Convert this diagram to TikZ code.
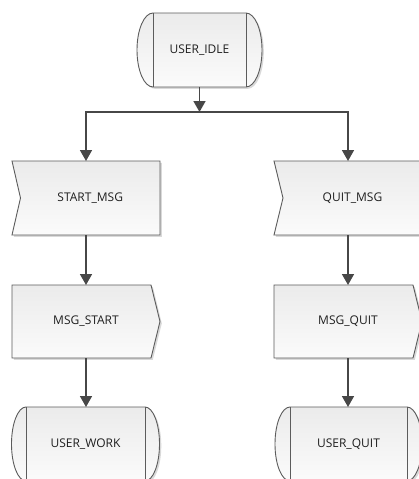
\documentclass[tikz,border=0pt]{standalone}
\usepackage{fontspec}
\setmainfont{Open Sans}
\usetikzlibrary{arrows.meta,backgrounds,calc}

\definecolor{edgegray}{HTML}{5C5C5C}
\definecolor{linegray}{HTML}{474747}
\definecolor{filltop}{HTML}{EBEBEB}
\definecolor{fillbot}{HTML}{FBFBFB}
\definecolor{shadowgray}{HTML}{D9D9D9}

\tikzset{
  caption/.style={font=\fontsize{12}{14}\selectfont, text=black!88,
    inner sep=0pt, outer sep=0pt, rectangle},
  statenode/.style={caption, minimum width=#1, minimum height=74pt},
  signode/.style={caption, minimum width=#1, minimum height=74pt},
  shapefill/.style={draw=edgegray, line width=0.9pt, line join=miter,
    top color=filltop, bottom color=fillbot},
  shadowfill/.style={fill=shadowgray, transform canvas={shift={(1.8pt,-1.8pt)}}},
  conn/.style={draw=linegray, line width=1.7pt, line join=miter,
    -{Triangle[length=11pt,width=12pt]}},
}

% state symbol: straight inner sides, bulging rounded ends
\newcommand\statepath[2]{(#1.north west) -- (#1.north east)
  arc[start angle=90,end angle=-90,x radius=#2,y radius=37]
  -- (#1.south west)
  arc[start angle=270,end angle=90,x radius=#2,y radius=37] -- cycle}
\newcommand\drawstate[2]{%
  \begin{scope}[on background layer]
    \path[shadowfill] \statepath{#1}{#2};
    \path[shapefill] \statepath{#1}{#2};
    \draw[edgegray, line width=0.9pt] (#1.north west) -- (#1.south west)
      (#1.north east) -- (#1.south east);
  \end{scope}}

% input signal: notch cut into the left side
\newcommand\inpath[2]{([xshift=-#2]#1.north west) -- (#1.north east)
  -- (#1.south east) -- ([xshift=-#2]#1.south west) -- (#1.west) -- cycle}
\newcommand\drawinput[2]{%
  \begin{scope}[on background layer]
    \path[shadowfill] \inpath{#1}{#2};
    \path[shapefill] \inpath{#1}{#2};
  \end{scope}}

% output signal: point on the right side
\newcommand\outpath[2]{(#1.north west) -- ([xshift=-#2]#1.north east)
  -- (#1.east) -- ([xshift=-#2]#1.south east) -- (#1.south west) -- cycle}
\newcommand\drawoutput[2]{%
  \begin{scope}[on background layer]
    \path[shadowfill] \outpath{#1}{#2};
    \path[shapefill] \outpath{#1}{#2};
  \end{scope}}

\begin{document}
\begin{tikzpicture}[x=1pt,y=1pt]
  \begin{scope}[on background layer]
    \fill[white] (0,0) rectangle (419,-479);
  \end{scope}
  \useasboundingbox (0,0) rectangle (419,-479);

  % states
  \node[statenode=93pt]  (idle)     at (199.5,-50)  {USER\_IDLE};
  \node[statenode=119pt] (userwork) at (85.5,-444)  {USER\_WORK};
  \node[statenode=117pt] (userquit) at (348.5,-444) {USER\_QUIT};

  % input signals
  \node[signode=139.5pt] (startmsg) at (90.25,-198) {START\_MSG};
  \node[signode=139pt]   (quitmsg)  at (352.5,-198) {QUIT\_MSG};

  % output signals
  \node[caption, minimum width=148pt, minimum height=73pt] (msgstart) at (86,-321.5)  {MSG\_START};
  \node[caption, minimum width=148pt, minimum height=73pt] (msgquit)  at (348,-321.5) {MSG\_QUIT};

  \drawstate{idle}{16}
  \drawstate{userwork}{14.5}
  \drawstate{userquit}{15}
  \drawinput{startmsg}{8.5pt}
  \drawinput{quitmsg}{9pt}
  \drawoutput{msgstart}{9pt}
  \drawoutput{msgquit}{9pt}

  % connectors
  \coordinate (split) at (199.5,-112);
  \draw[conn] (idle.south) -- (split);
  \draw[conn] (split) -| (msgstart.north |- startmsg.north);
  \draw[conn] (split) -| (msgquit.north |- quitmsg.north);
  \draw[conn] (startmsg.south -| msgstart.north) -- (msgstart.north);
  \draw[conn] (quitmsg.south -| msgquit.north) -- (msgquit.north);
  \draw[conn] (msgstart.south) -- (msgstart.south |- userwork.north);
  \draw[conn] (msgquit.south) -- (msgquit.south |- userquit.north);
\end{tikzpicture}
\end{document}
